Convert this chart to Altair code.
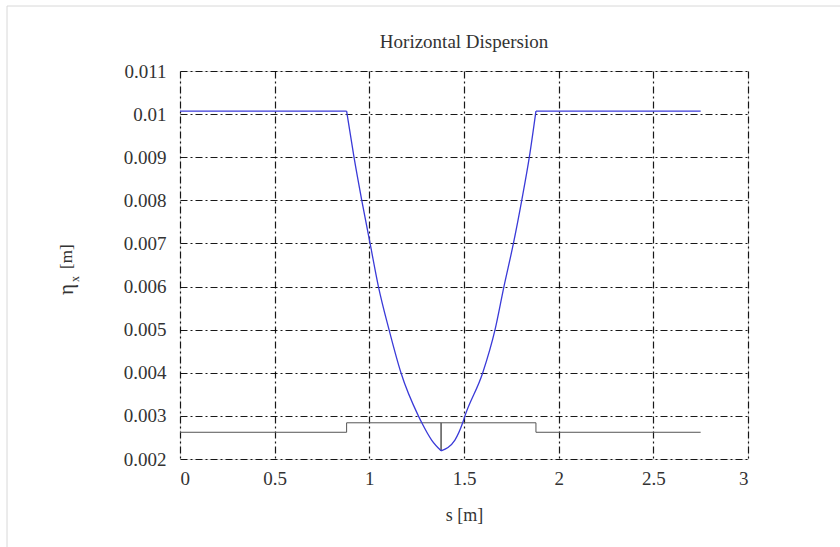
import altair as alt
import pandas as pd

# Dispersion curve (s [m], eta_x [m]), split into flat / falling / rising / flat parts
seg_ids = ["a", "a",
           "b", "b", "b", "b", "b", "b", "b", "b", "b", "b", "b",
           "c", "c", "c", "c", "c", "c", "c", "c", "c", "c", "c",
           "d", "d"]
s_vals = [0.0, 0.88,
          0.88, 0.919, 0.960, 1.004, 1.048, 1.104, 1.167, 1.259, 1.277, 1.329, 1.379,
          1.379, 1.452, 1.493, 1.505, 1.599, 1.664, 1.711, 1.761, 1.805, 1.845, 1.88,
          1.88, 2.75]
eta_vals = [0.01007, 0.01007,
            0.01007, 0.009, 0.008, 0.007, 0.006, 0.005, 0.004, 0.003, 0.00284, 0.00244, 0.00219,
            0.00219, 0.00244, 0.00284, 0.003, 0.004, 0.005, 0.006, 0.007, 0.008, 0.009, 0.01007,
            0.01007, 0.01007]

# Lattice outline drawn at the bottom
lat_s = [0.0, 0.88, 0.88, 1.379, 1.379, 1.379, 1.88, 1.88, 2.75]
lat_y = [0.00262, 0.00262, 0.00284, 0.00284, 0.00219, 0.00284, 0.00284, 0.00262, 0.00262]

x_ticks = [0, 0.5, 1, 1.5, 2, 2.5, 3]
y_ticks = [0.002, 0.003, 0.004, 0.005, 0.006, 0.007, 0.008, 0.009, 0.01, 0.011]

TITLE = "Horizontal Dispersion"
XTITLE = "s [m]"
YTITLE_MAIN = "η"
YTITLE_SUB = "x"
YTITLE_UNIT = "[m]"

df = pd.DataFrame({"s": s_vals, "eta": eta_vals, "seg": seg_ids,
                   "i": list(range(len(s_vals)))})
lat = pd.DataFrame({"s": lat_s, "eta": lat_y, "i": list(range(len(lat_s)))})
one = pd.DataFrame({"a": [0]})

FONT = "Liberation Serif"
W, H = 568, 388
OX, OY = 180, 71  # plot origin on the page

xs = alt.Scale(domain=[0, 3], nice=False, zero=False)
ys = alt.Scale(domain=[0.002, 0.011], nice=False, zero=False)

x_axis = alt.Axis(values=x_ticks, labelExpr="format(datum.value, '~g')",
                  grid=True, gridColor="black", gridDash=[7, 3, 2, 3], gridWidth=1.2,
                  gridOpacity=0.9, ticks=False, domain=False,
                  labelFont=FONT, labelFontSize=19, labelColor="#333", labelPadding=10,
                  title=XTITLE, titleFont=FONT, titleFontSize=18, titleFontWeight="normal",
                  titleColor="#333", titleX=W / 2, titleY=56, titleBaseline="middle",
                  titleAlign="center")
y_axis = alt.Axis(values=y_ticks, labelExpr="format(datum.value, '~g')",
                  grid=True, gridColor="black", gridDash=[7, 3, 2, 3], gridWidth=1.2,
                  gridOpacity=0.9, ticks=False, domain=False,
                  labelFont=FONT, labelFontSize=19, labelColor="#333", labelPadding=14,
                  title="")

curve = alt.Chart(df).mark_line(color="#3a3ad8", strokeWidth=1.3, interpolate="monotone").encode(
    x=alt.X("s:Q", scale=xs, axis=x_axis),
    y=alt.Y("eta:Q", scale=ys, axis=y_axis),
    detail="seg:N",
    order="i:Q",
)

lattice = alt.Chart(lat).mark_line(color="#555555", strokeWidth=1).encode(
    x=alt.X("s:Q", scale=xs),
    y=alt.Y("eta:Q", scale=ys),
    order="i:Q",
)

border_top = alt.Chart(one).mark_rule(color="#d8d8d8", strokeWidth=1).encode(
    x=alt.value(7 - OX), x2=alt.value(840 - OX), y=alt.value(6 - OY))
border_left = alt.Chart(one).mark_rule(color="#d8d8d8", strokeWidth=1).encode(
    x=alt.value(7 - OX), y=alt.value(6 - OY), y2=alt.value(547 - OY))

title_txt = alt.Chart(one).mark_text(font=FONT, fontSize=19, color="#333", align="center",
                                     baseline="alphabetic").encode(
    x=alt.value(W / 2), y=alt.value(48 - OY), text=alt.value(TITLE))

ytitle_main = alt.Chart(one).mark_text(font=FONT, fontSize=21, color="#333", align="left",
                                       baseline="alphabetic", angle=270).encode(
    x=alt.value(73 - OX), y=alt.value(295 - OY), text=alt.value(YTITLE_MAIN))
ytitle_sub = alt.Chart(one).mark_text(font=FONT, fontSize=12, color="#333", align="left",
                                      baseline="alphabetic", angle=270).encode(
    x=alt.value(79 - OX), y=alt.value(282 - OY), text=alt.value(YTITLE_SUB))
ytitle_unit = alt.Chart(one).mark_text(font=FONT, fontSize=17, color="#333", align="left",
                                       baseline="alphabetic", angle=270).encode(
    x=alt.value(72 - OX), y=alt.value(269 - OY), text=alt.value(YTITLE_UNIT))

chart = alt.layer(border_top, border_left, lattice, curve, title_txt,
                  ytitle_main, ytitle_sub, ytitle_unit).properties(
    width=W, height=H,
    autosize=alt.AutoSizeParams(type="none"),
    padding={"left": OX, "top": OY, "right": 840 - OX - W, "bottom": 547 - OY - H},
).configure_view(stroke="black", strokeWidth=2.5).configure(background="white")

chart.save("out.html", embed_options={"renderer": "svg", "actions": False})
